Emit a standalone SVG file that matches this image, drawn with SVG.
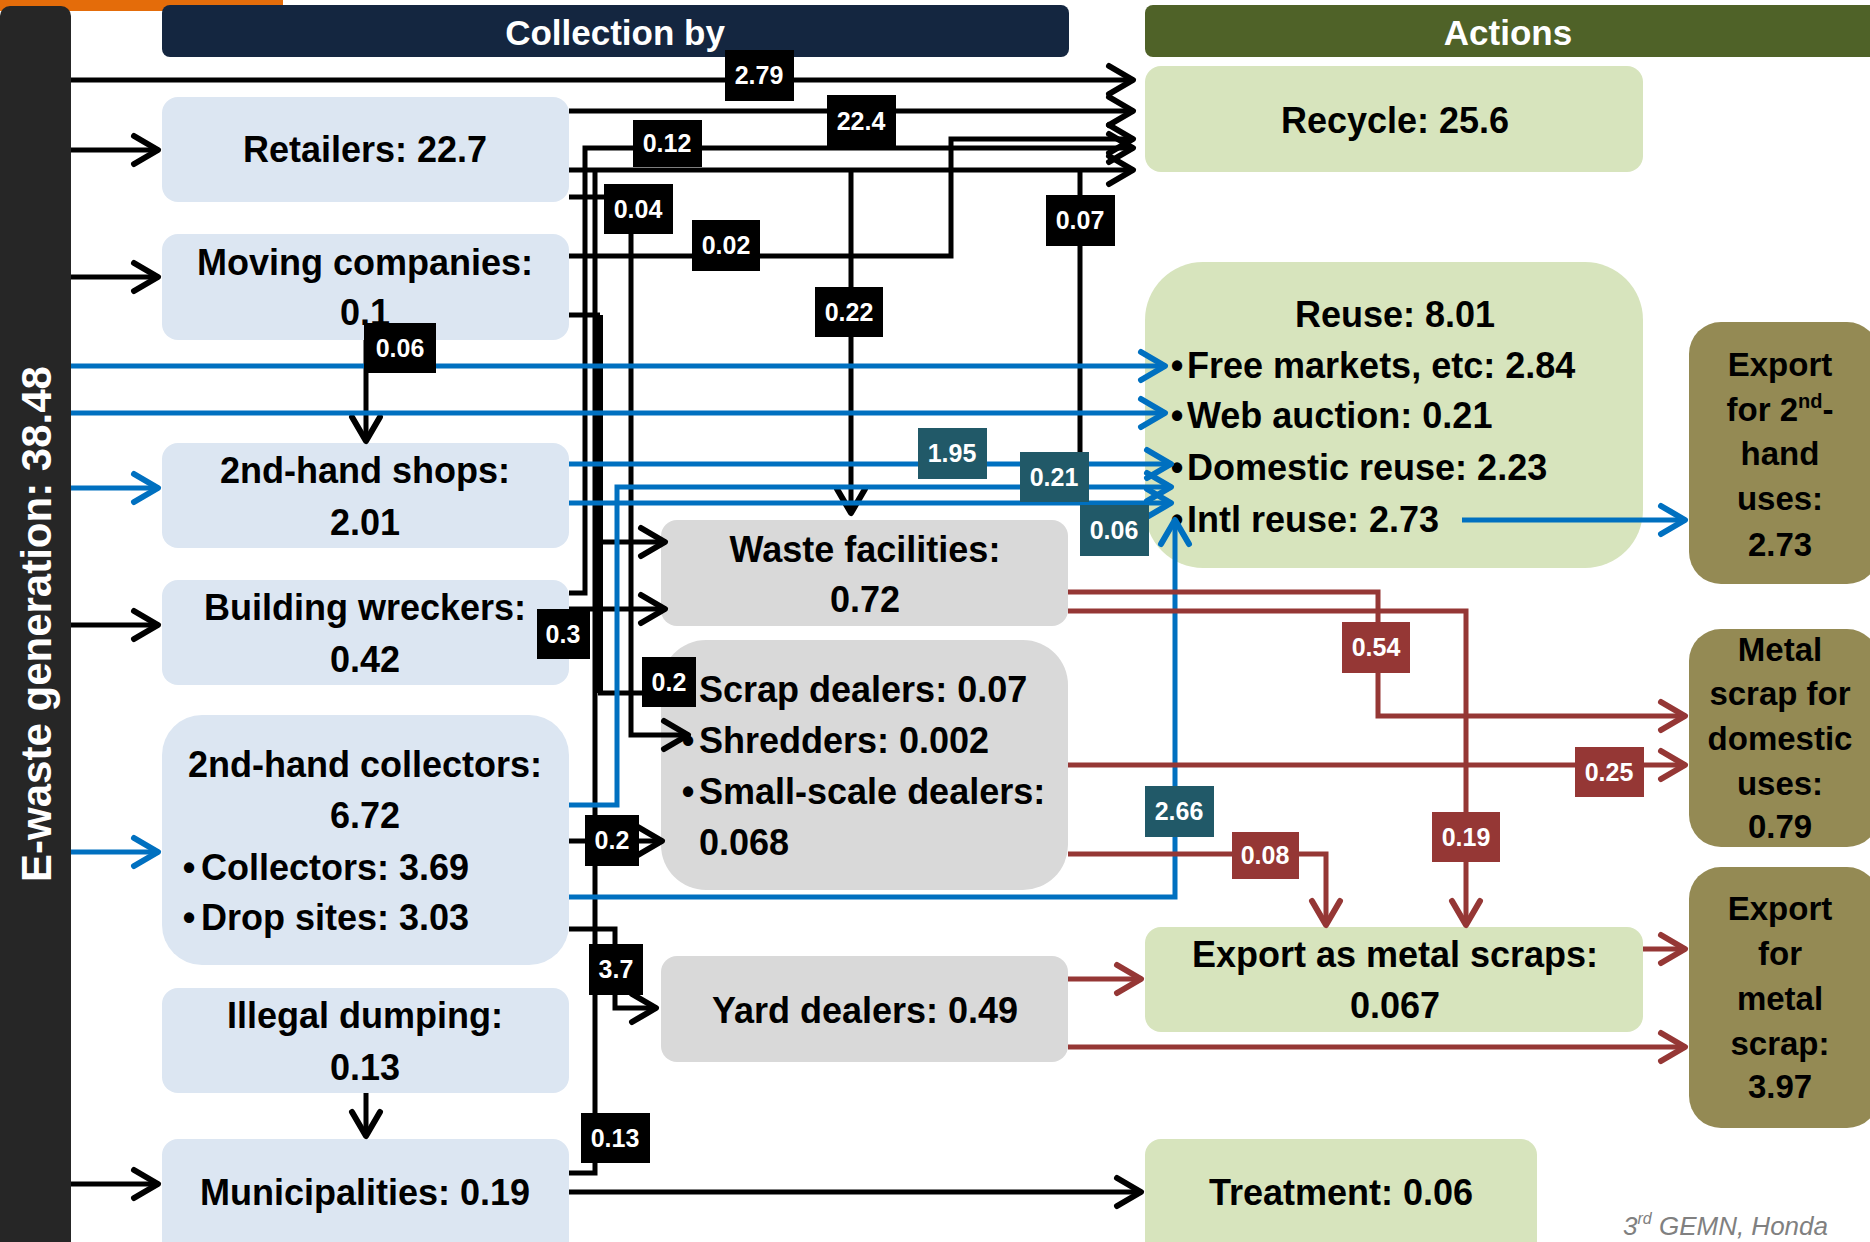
<svg xmlns="http://www.w3.org/2000/svg" width="1870" height="1242" viewBox="0 0 1870 1242">
<style>
text{font-family:'Liberation Sans',Arial,sans-serif;font-weight:bold}
.nt{font-size:36px;fill:#000}
.ot{font-size:33px;fill:#000;text-anchor:middle}
.c{text-anchor:middle}
.hd{font-size:35px;fill:#fff;text-anchor:middle}
.lt{font-size:25px;fill:#fff;text-anchor:middle}
.blu{fill:#DCE6F2}.gry{fill:#D9D9D9}.grn{fill:#D7E4BD}.olv{fill:#948A54}
.k{stroke:#000;stroke-width:5;fill:none}
.b{stroke:#0070C0;stroke-width:5;fill:none}
.r{stroke:#953735;stroke-width:5;fill:none}
.lk{fill:#000}.lb{fill:#215968}.lr{fill:#953735}
</style>
<defs>
<marker id="mk" viewBox="-32 -20 42 40" markerWidth="42" markerHeight="40" refX="0" refY="0" orient="auto" markerUnits="userSpaceOnUse"><path d="M-24,-14 L0,0 L-24,14" fill="none" stroke="#000" stroke-width="6" stroke-linecap="round" stroke-linejoin="round"/></marker>
<marker id="mb" viewBox="-32 -20 42 40" markerWidth="42" markerHeight="40" refX="0" refY="0" orient="auto" markerUnits="userSpaceOnUse"><path d="M-24,-14 L0,0 L-24,14" fill="none" stroke="#0070C0" stroke-width="6" stroke-linecap="round" stroke-linejoin="round"/></marker>
<marker id="mr" viewBox="-32 -20 42 40" markerWidth="42" markerHeight="40" refX="0" refY="0" orient="auto" markerUnits="userSpaceOnUse"><path d="M-24,-14 L0,0 L-24,14" fill="none" stroke="#953735" stroke-width="6" stroke-linecap="round" stroke-linejoin="round"/></marker>
</defs>
<rect width="1870" height="1242" fill="#fff"/>
<rect x="0" y="0" width="283" height="11" fill="#E46C0A"/>

<g id="ewaste">
<rect x="0" y="6" width="71" height="1250" rx="10" fill="#262626"/>
<text transform="translate(51,624) rotate(-90)" class="c" style="font-size:42px;fill:#fff">E-waste generation: 38.48</text>
</g>
<g id="hdr-collection">
<rect x="162" y="5" width="907" height="52" rx="8" fill="#142640"/>
<text x="615" y="45" class="hd">Collection by</text>
</g>
<g id="hdr-actions">
<rect x="1145" y="5" width="735" height="52" rx="8" fill="#4F6228"/>
<text x="1508" y="45" class="hd">Actions</text>
</g>

<g id="retailers"><rect x="162" y="97" width="407" height="105" rx="16" class="blu"/><text x="365" y="162" class="nt c">Retailers: 22.7</text></g>
<g id="moving"><rect x="162" y="234" width="407" height="106" rx="16" class="blu"/><text x="365" y="275" class="nt c">Moving companies:</text><text x="365" y="325" class="nt c">0.1</text></g>
<g id="shops"><rect x="162" y="443" width="407" height="105" rx="16" class="blu"/><text x="365" y="483" class="nt c">2nd-hand shops:</text><text x="365" y="535" class="nt c">2.01</text></g>
<g id="wreckers"><rect x="162" y="580" width="407" height="105" rx="16" class="blu"/><text x="365" y="620" class="nt c">Building wreckers:</text><text x="365" y="672" class="nt c">0.42</text></g>
<g id="collectors"><rect x="162" y="715" width="407" height="250" rx="40" class="blu"/><text x="365" y="777" class="nt c">2nd-hand collectors:</text><text x="365" y="828" class="nt c">6.72</text><text x="189" y="880" class="nt c">•</text><text x="201" y="880" class="nt">Collectors: 3.69</text><text x="189" y="930" class="nt c">•</text><text x="201" y="930" class="nt">Drop sites: 3.03</text></g>
<g id="dumping"><rect x="162" y="988" width="407" height="105" rx="16" class="blu"/><text x="365" y="1028" class="nt c">Illegal dumping:</text><text x="365" y="1080" class="nt c">0.13</text></g>
<g id="municipalities"><rect x="162" y="1139" width="407" height="120" rx="16" class="blu"/><text x="365" y="1205" class="nt c">Municipalities: 0.19</text></g>

<g id="waste"><rect x="661" y="520" width="407" height="106" rx="16" class="gry"/><text x="865" y="562" class="nt c">Waste facilities:</text><text x="865" y="612" class="nt c">0.72</text></g>
<g id="scrap"><rect x="661" y="640" width="407" height="250" rx="45" class="gry"/><text x="699" y="702" class="nt">Scrap dealers: 0.07</text><text x="688" y="753" class="nt c">•</text><text x="699" y="753" class="nt">Shredders: 0.002</text><text x="688" y="804" class="nt c">•</text><text x="699" y="804" class="nt">Small-scale dealers:</text><text x="699" y="855" class="nt">0.068</text></g>
<g id="yard"><rect x="661" y="956" width="407" height="106" rx="16" class="gry"/><text x="865" y="1023" class="nt c">Yard dealers: 0.49</text></g>

<g id="recycle"><rect x="1145" y="66" width="498" height="106" rx="16" class="grn"/><text x="1395" y="133" class="nt c">Recycle: 25.6</text></g>
<g id="reuse"><rect x="1145" y="262" width="498" height="306" rx="58" class="grn"/><text x="1395" y="327" class="nt c">Reuse: 8.01</text><text x="1177" y="378" class="nt c">•</text><text x="1187" y="378" class="nt">Free markets, etc: 2.84</text><text x="1177" y="428" class="nt c">•</text><text x="1187" y="428" class="nt">Web auction: 0.21</text><text x="1177" y="480" class="nt c">•</text><text x="1187" y="480" class="nt">Domestic reuse: 2.23</text><text x="1177" y="532" class="nt c">•</text><text x="1187" y="532" class="nt">Intl reuse: 2.73</text></g>
<g id="export-metal-scraps"><rect x="1145" y="927" width="498" height="105" rx="16" class="grn"/><text x="1395" y="967" class="nt c">Export as metal scraps:</text><text x="1395" y="1018" class="nt c">0.067</text></g>
<g id="treatment"><rect x="1145" y="1139" width="392" height="120" rx="16" class="grn"/><text x="1341" y="1205" class="nt c">Treatment: 0.06</text></g>

<g id="export-2nd"><rect x="1689" y="322" width="190" height="262" rx="32" class="olv"/><text x="1780" y="376" class="ot">Export</text><text x="1780" y="421" class="ot">for 2<tspan font-size="20" dy="-13">nd</tspan><tspan dy="13">-</tspan></text><text x="1780" y="465" class="ot">hand</text><text x="1780" y="510" class="ot">uses:</text><text x="1780" y="556" class="ot">2.73</text></g>
<g id="metal-domestic"><rect x="1689" y="629" width="190" height="218" rx="32" class="olv"/><text x="1780" y="661" class="ot">Metal</text><text x="1780" y="705" class="ot">scrap for</text><text x="1780" y="750" class="ot">domestic</text><text x="1780" y="795" class="ot">uses:</text><text x="1780" y="838" class="ot">0.79</text></g>
<g id="export-metal"><rect x="1689" y="867" width="190" height="261" rx="32" class="olv"/><text x="1780" y="920" class="ot">Export</text><text x="1780" y="965" class="ot">for</text><text x="1780" y="1010" class="ot">metal</text><text x="1780" y="1055" class="ot">scrap:</text><text x="1780" y="1098" class="ot">3.97</text></g>

<g id="connectors">
<path class="k" marker-end="url(#mk)" d="M71,80 H1133"/>
<path class="k" marker-end="url(#mk)" d="M71,150 H158"/>
<path class="k" marker-end="url(#mk)" d="M71,277 H158"/>
<path class="k" marker-end="url(#mk)" d="M71,625 H158"/>
<path class="k" marker-end="url(#mk)" d="M71,1184 H158"/>
<path class="k" marker-end="url(#mk)" d="M569,111 H1133"/>
<path class="k" marker-end="url(#mk)" d="M569,170 H1133"/>
<path class="k" marker-end="url(#mk)" d="M569,593 H585 V148 H1133"/>
<path class="k" marker-end="url(#mk)" d="M569,256 H951 V139 H1133"/>
<path class="k" marker-end="url(#mk)" d="M569,197 H631 V735 H688"/>
<path class="k" marker-end="url(#mk)" d="M851,170 V513"/>
<path class="k" d="M1080,170 V487"/>
<path class="k" d="M595,169 V1173 H569"/>
<path class="k" d="M569,315 H600"/>
<path class="k" style="stroke-width:10" d="M598,315 V693"/>
<path class="k" marker-end="url(#mk)" d="M598,542 H665"/>
<path class="k" marker-end="url(#mk)" d="M569,609 H665"/>
<path class="k" d="M598,693 H660"/>
<path class="k" marker-end="url(#mk)" d="M569,841 H662"/>
<path class="k" marker-end="url(#mk)" d="M569,929 H615 V1008 H656"/>
<path class="k" marker-end="url(#mk)" d="M569,1192 H1141"/>
<path class="k" marker-end="url(#mk)" d="M366,1093 V1136"/>
<path class="k" marker-end="url(#mk)" d="M366,340 V441"/>
<path class="b" marker-end="url(#mb)" d="M71,366 H1165"/>
<path class="b" marker-end="url(#mb)" d="M71,413 H1165"/>
<path class="b" marker-end="url(#mb)" d="M71,488 H158"/>
<path class="b" marker-end="url(#mb)" d="M71,852 H158"/>
<path class="b" marker-end="url(#mb)" d="M569,464 H1171"/>
<path class="b" marker-end="url(#mb)" d="M569,805 H617 V487 H1171"/>
<path class="b" marker-end="url(#mb)" d="M569,503 H1171"/>
<path class="b" marker-end="url(#mb)" d="M569,897 H1175 V520"/>
<path class="b" marker-end="url(#mb)" d="M1462,520 H1685"/>
<path class="r" marker-end="url(#mr)" d="M1068,592 H1378 V716 H1685"/>
<path class="r" marker-end="url(#mr)" d="M1068,611 H1466 V925"/>
<path class="r" marker-end="url(#mr)" d="M1068,765 H1685"/>
<path class="r" marker-end="url(#mr)" d="M1068,854 H1326 V925"/>
<path class="r" marker-end="url(#mr)" d="M1068,979 H1141"/>
<path class="r" marker-end="url(#mr)" d="M1068,1047 H1685"/>
<path class="r" marker-end="url(#mr)" d="M1643,949 H1685"/>

<rect class="lk" x="725" y="50" width="69" height="51"/><text class="lt" x="759" y="84">2.79</text>
<rect class="lk" x="827" y="95" width="69" height="52"/><text class="lt" x="861" y="130">22.4</text>
<rect class="lk" x="633" y="120" width="69" height="47"/><text class="lt" x="667" y="152">0.12</text>
<rect class="lk" x="604" y="184" width="69" height="50"/><text class="lt" x="638" y="218">0.04</text>
<rect class="lk" x="692" y="220" width="68" height="51"/><text class="lt" x="726" y="254">0.02</text>
<rect class="lk" x="1046" y="195" width="69" height="51"/><text class="lt" x="1080" y="229">0.07</text>
<rect class="lk" x="815" y="287" width="68" height="50"/><text class="lt" x="849" y="321">0.22</text>
<rect class="lk" x="364" y="323" width="72" height="50"/><text class="lt" x="400" y="357">0.06</text>
<rect class="lk" x="537" y="609" width="53" height="50"/><text class="lt" x="563" y="643">0.3</text>
<rect class="lk" x="642" y="657" width="54" height="50"/><text class="lt" x="669" y="691">0.2</text>
<rect class="lk" x="585" y="815" width="54" height="51"/><text class="lt" x="612" y="849">0.2</text>
<rect class="lk" x="589" y="944" width="54" height="51"/><text class="lt" x="616" y="978">3.7</text>
<rect class="lk" x="581" y="1113" width="69" height="50"/><text class="lt" x="615" y="1147">0.13</text>
<rect class="lb" x="918" y="428" width="69" height="51"/><text class="lt" x="952" y="462">1.95</text>
<rect class="lb" x="1020" y="452" width="69" height="50"/><text class="lt" x="1054" y="486">0.21</text>
<rect class="lb" x="1080" y="505" width="69" height="51"/><text class="lt" x="1114" y="539">0.06</text>
<rect class="lb" x="1145" y="786" width="69" height="51"/><text class="lt" x="1179" y="820">2.66</text>
<rect class="lr" x="1342" y="622" width="68" height="51"/><text class="lt" x="1376" y="656">0.54</text>
<rect class="lr" x="1575" y="747" width="69" height="50"/><text class="lt" x="1609" y="781">0.25</text>
<rect class="lr" x="1232" y="832" width="67" height="47"/><text class="lt" x="1265" y="864">0.08</text>
<rect class="lr" x="1432" y="812" width="68" height="50"/><text class="lt" x="1466" y="846">0.19</text>
</g>

<text x="1623" y="1235" style="font-size:26px;font-weight:normal;font-style:italic;fill:#808080">3<tspan font-size="16" dy="-11">rd</tspan><tspan dy="11"> GEMN, Honda</tspan></text>
</svg>
